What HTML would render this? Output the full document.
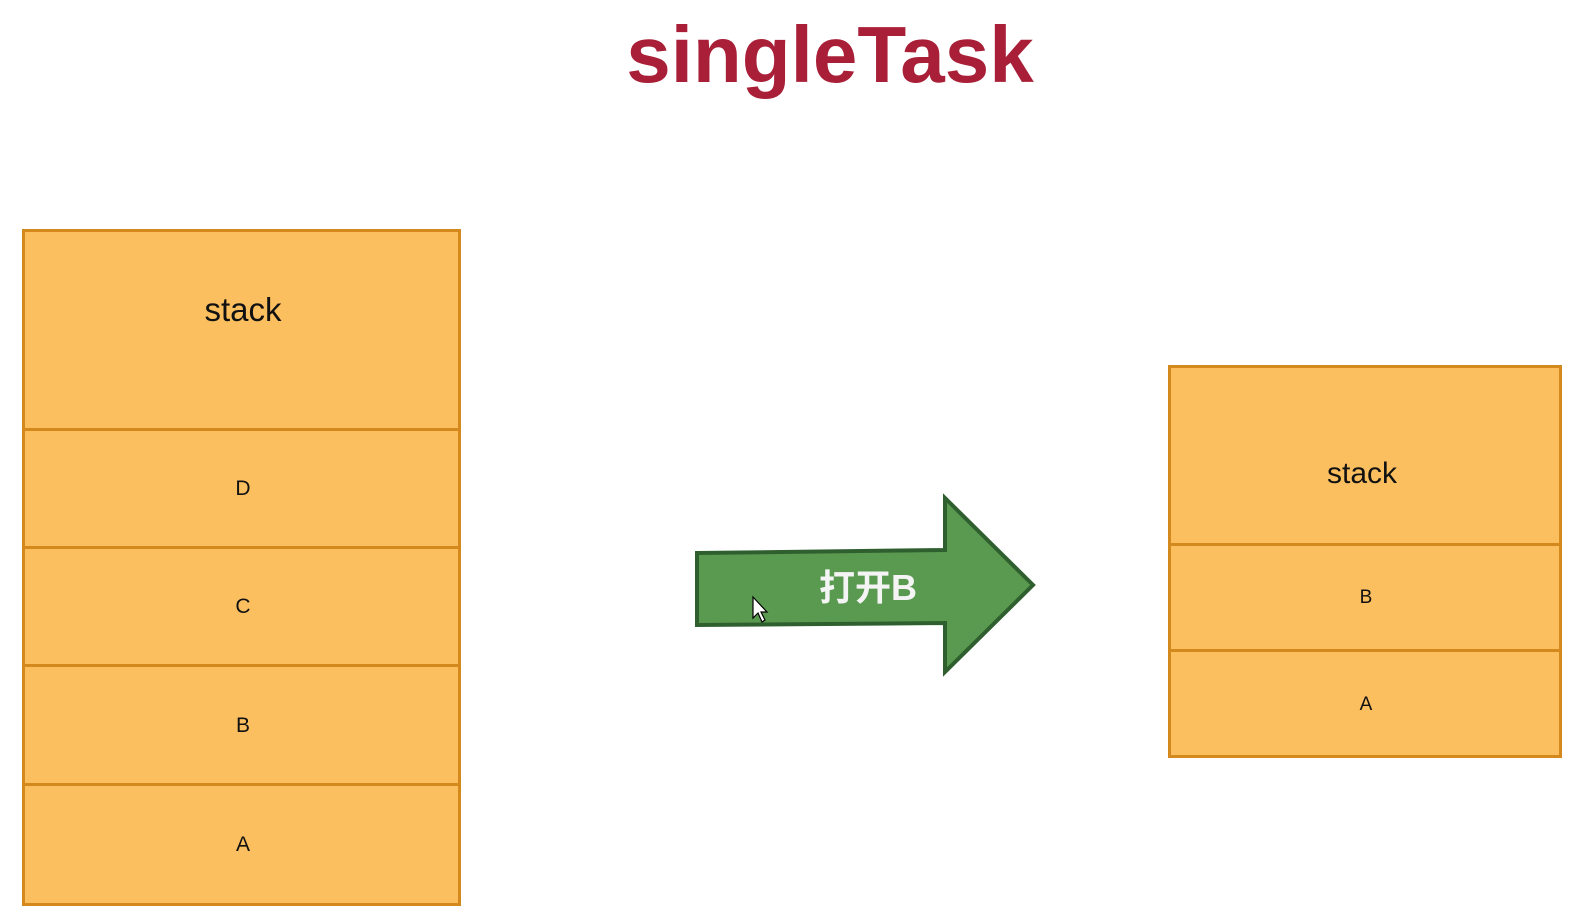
<!DOCTYPE html>
<html><head><meta charset="utf-8"><style>
html,body{margin:0;padding:0;background:#fff;}
svg{display:block;}
</style></head><body>
<svg width="1580" height="922" viewBox="0 0 1580 922" xmlns="http://www.w3.org/2000/svg">
  <text x="830" y="82" text-anchor="middle" font-family="Liberation Sans, sans-serif" font-weight="bold" font-size="80" fill="#a91f38">singleTask</text>

  <g fill="#fbbf5f" stroke="#d4891c" stroke-width="3">
    <rect x="23.5" y="230.5" width="436" height="199"/>
    <rect x="23.5" y="429.5" width="436" height="118"/>
    <rect x="23.5" y="547.5" width="436" height="118"/>
    <rect x="23.5" y="665.5" width="436" height="119"/>
    <rect x="23.5" y="784.5" width="436" height="120"/>
  </g>
  <g font-family="Liberation Sans, sans-serif" fill="#111" text-anchor="middle">
    <text x="243" y="321" font-size="33">stack</text>
    <text x="243" y="495" font-size="21">D</text>
    <text x="243" y="613" font-size="21">C</text>
    <text x="243" y="732" font-size="21">B</text>
    <text x="243" y="851" font-size="21">A</text>
  </g>

  <g>
    <polygon points="697,553 945,550 945,498 1033,585 945,672 945,623 697,625" fill="#5a9a50" stroke="#2f5f2f" stroke-width="4" stroke-linejoin="miter"/>
    <text x="868" y="600" text-anchor="middle" font-family="Liberation Sans, 'Noto Sans CJK SC', sans-serif" font-weight="bold" font-size="36" fill="#f4f4f4">打开B</text>
    <polygon points="753,597 753,618 758,613 762,622 765,620 761,612 767,612" fill="#fff" stroke="#000" stroke-width="1.2"/>
  </g>

  <g fill="#fbbf5f" stroke="#d4891c" stroke-width="3">
    <rect x="1169.5" y="366.5" width="391" height="178"/>
    <rect x="1169.5" y="544.5" width="391" height="106"/>
    <rect x="1169.5" y="650.5" width="391" height="106"/>
  </g>
  <g font-family="Liberation Sans, sans-serif" fill="#111" text-anchor="middle">
    <text x="1362" y="483" font-size="30">stack</text>
    <text x="1366" y="603" font-size="19">B</text>
    <text x="1366" y="710" font-size="19">A</text>
  </g>
</svg>
</body></html>
